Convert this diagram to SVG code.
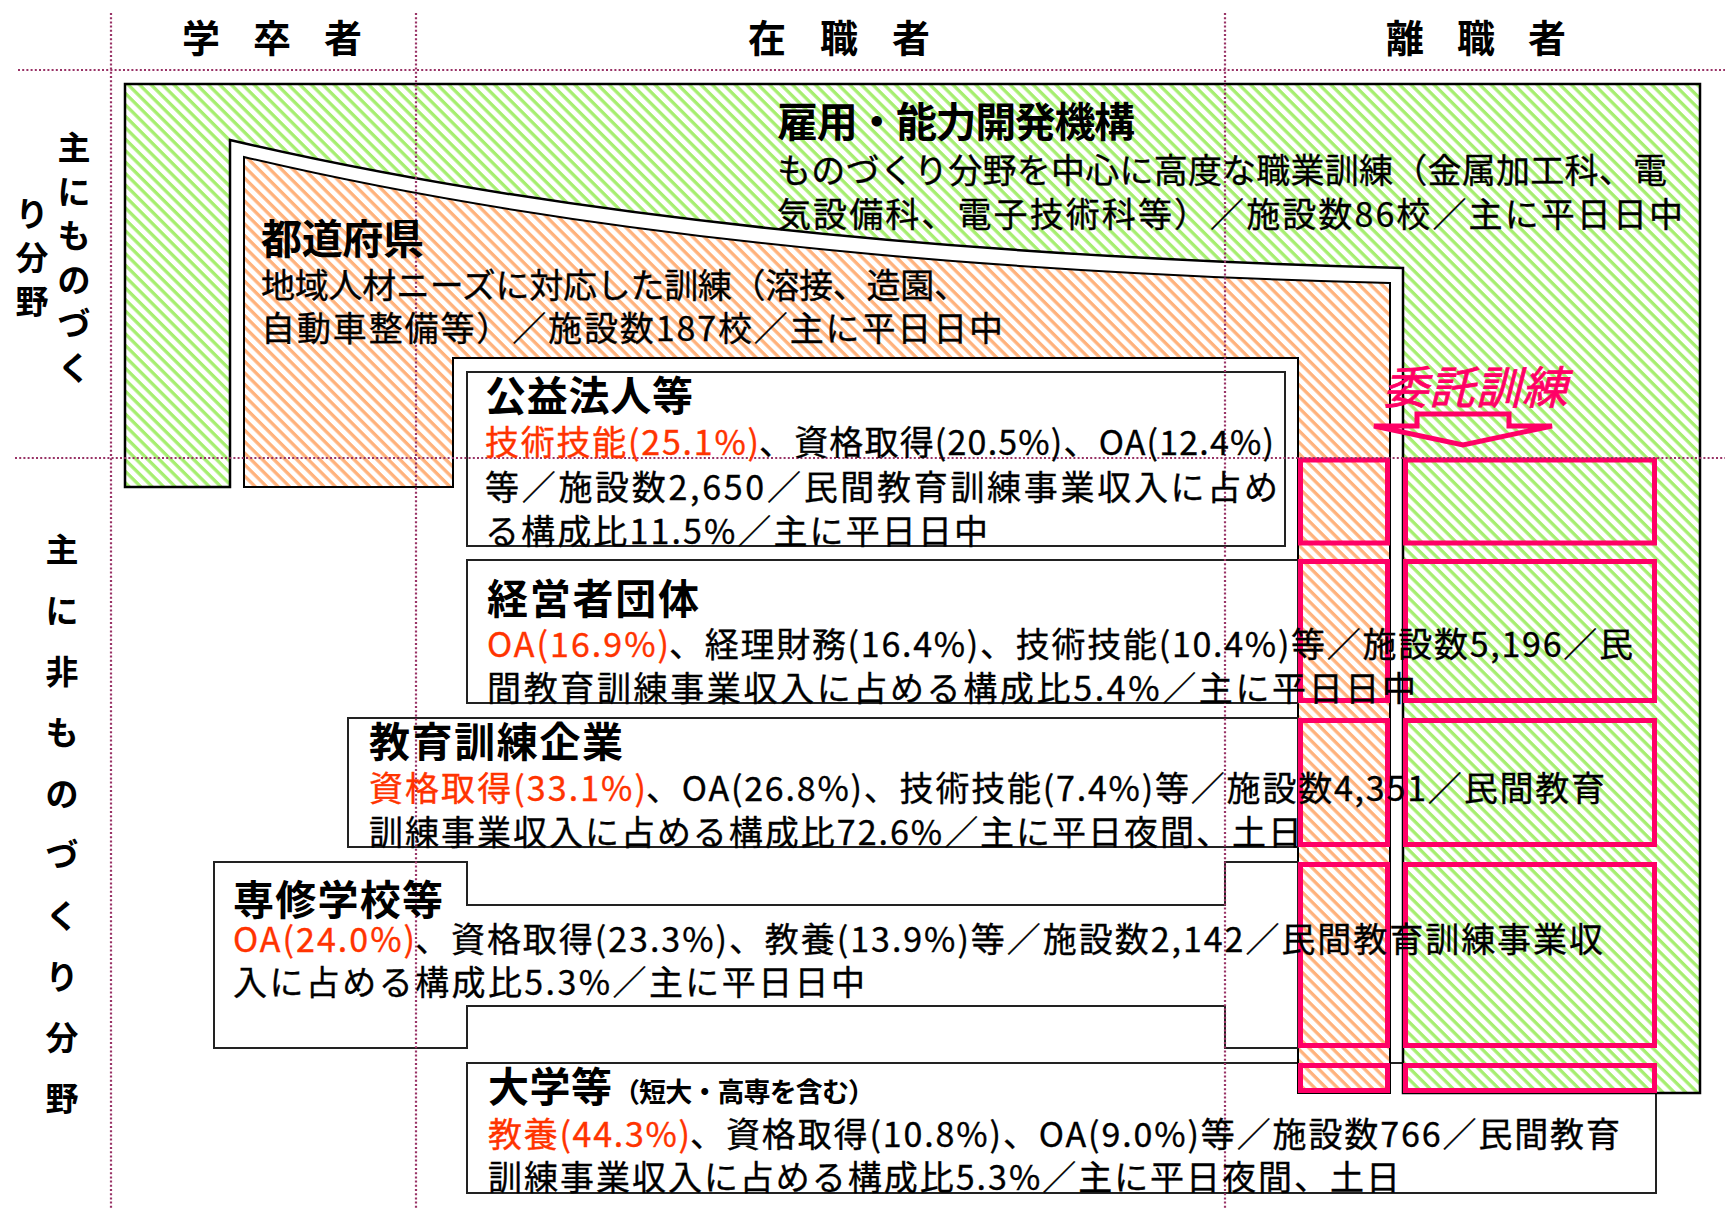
<svg xmlns="http://www.w3.org/2000/svg" width="1725" height="1209" viewBox="0 0 1725 1209">
<defs>
<pattern id="hg" patternUnits="userSpaceOnUse" width="8.1" height="8.1" patternTransform="rotate(45)">
<rect width="8.1" height="8.1" fill="#ffffff"/>
<rect width="8.1" height="3.3" fill="#A6EE70"/>
</pattern>
<pattern id="ho" patternUnits="userSpaceOnUse" width="8.1" height="8.1" patternTransform="rotate(45)">
<rect width="8.1" height="8.1" fill="#ffffff"/>
<rect width="8.1" height="3.3" fill="#FFB27C"/>
</pattern>
<style>
text{font-family:"Noto Sans CJK JP","Noto Sans CJK SC",sans-serif;fill:#000}
.h{font-size:38px;font-weight:bold}
.v{font-size:33px;font-weight:bold}
.ti{font-size:41px;font-weight:bold}
.sm{font-size:27px;font-weight:bold}
.tx{font-size:34px;stroke:#000;stroke-width:0.35}
.red{fill:#FF3300;stroke:#FF3300}
.box{fill:#ffffff;stroke:#222;stroke-width:2}
.pk{fill:none;stroke:#FF0066;stroke-width:5}
.dot{stroke:#993366;stroke-width:2.2;stroke-dasharray:2 2.2;fill:none}
.itk{font-size:45px;font-style:italic;fill:#FF0066;stroke:#FF0066;stroke-width:0.8}
</style>
</defs>
<rect width="1725" height="1209" fill="#ffffff"/>

<g id="node-daigaku-box">
<rect class="box" x="467" y="1063" width="1189" height="130"/>
</g>

<g id="node-koyou-shape">
<path d="M125 84 L1700 84 L1700 1093 L1403 1093 L1403 268 Q700 250 230 140 L230 487 L125 487 Z" fill="url(#hg)" stroke="#000" stroke-width="2.5"/>
</g>
<g id="node-todofuken-shape">
<path d="M244 157 Q705 266 1390 283 L1390 1093 L1298 1093 L1298 358 L453 358 L453 487 L244 487 Z" fill="url(#ho)" stroke="#000" stroke-width="2"/>
</g>

<g id="node-koueki-box"><rect class="box" x="467" y="372" width="818" height="174"/></g>
<g id="node-keieisha-box"><rect class="box" x="467" y="560" width="831" height="143"/></g>
<g id="node-kyouiku-box"><rect class="box" x="348" y="718" width="950" height="129"/></g>
<g id="node-senshu-box"><path class="box" d="M214 862 L467 862 L467 905 L1225 905 L1225 862 L1298 862 L1298 1048 L1225 1048 L1225 1006 L467 1006 L467 1048 L214 1048 Z"/></g>

<g id="node-itaku-boxes">
<rect class="pk" x="1300.5" y="460" width="87" height="83"/>
<rect class="pk" x="1405.5" y="460" width="249" height="83"/>
<rect class="pk" x="1300.5" y="561.5" width="87" height="139"/>
<rect class="pk" x="1405.5" y="561.5" width="249" height="139"/>
<rect class="pk" x="1300.5" y="720.5" width="87" height="124"/>
<rect class="pk" x="1405.5" y="720.5" width="249" height="124"/>
<rect class="pk" x="1300.5" y="864.5" width="87" height="181"/>
<rect class="pk" x="1405.5" y="864.5" width="249" height="181"/>
<rect class="pk" x="1300.5" y="1065.5" width="87" height="25"/>
<rect class="pk" x="1405.5" y="1065.5" width="249" height="25"/>
</g>

<g id="connectors">
<polygon points="1374,426 1417,426 1417,414 1509,414 1509,426 1552,426 1463,445" fill="none" stroke="#FF0066" stroke-width="5" stroke-linejoin="miter"/>
</g>

<g id="grid">
<line class="dot" x1="111" y1="13" x2="111" y2="1209"/>
<line class="dot" x1="416" y1="13" x2="416" y2="1209"/>
<line class="dot" x1="1225" y1="13" x2="1225" y2="1209"/>
<line class="dot" x1="18" y1="70" x2="1725" y2="70"/>
<line class="dot" x1="15" y1="458" x2="1725" y2="458"/>
</g>

<g id="header">
<text class="h" x="182 220 253 291 324" y="52">学 卒 者</text>
<text class="h" x="748 786 820 858 892" y="52">在 職 者</text>
<text class="h" x="1386 1424 1457 1495 1528" y="52">離 職 者</text>
</g>

<g id="label-monozukuri">
<text class="v" x="74" y="256" text-anchor="middle" dominant-baseline="central"><tspan x="74" y="146">主</tspan><tspan x="74" y="190">に</tspan><tspan x="74" y="234">も</tspan><tspan x="74" y="278">の</tspan><tspan x="74" y="322">づ</tspan><tspan x="74" y="366">く</tspan><tspan x="32" y="212">り</tspan><tspan x="32" y="256">分</tspan><tspan x="32" y="300">野</tspan></text>
</g>
<g id="label-hi-monozukuri">
<text class="v" text-anchor="middle" dominant-baseline="central"><tspan x="62" y="548">主</tspan><tspan x="62" y="609">に</tspan><tspan x="62" y="670">非</tspan><tspan x="62" y="731">も</tspan><tspan x="62" y="792">の</tspan><tspan x="62" y="853">づ</tspan><tspan x="62" y="914">く</tspan><tspan x="62" y="975">り</tspan><tspan x="62" y="1036">分</tspan><tspan x="62" y="1097">野</tspan></text>
</g>

<g id="node-koyou">
<text class="ti" x="777" y="137" textLength="358" lengthAdjust="spacing">雇用・能力開発機構</text>
<text class="tx" x="777" y="183" textLength="890" lengthAdjust="spacing">ものづくり分野を中心に高度な職業訓練（金属加工科、電</text>
<text class="tx" x="777" y="227" textLength="906" lengthAdjust="spacing">気設備科、電子技術科等）／施設数86校／主に平日日中</text>
</g>

<g id="node-todofuken">
<text class="ti" x="261" y="254" textLength="163" lengthAdjust="spacing">都道府県</text>
<text class="tx" x="261" y="298" textLength="707" lengthAdjust="spacing">地域人材ニーズに対応した訓練（溶接、造園、</text>
<text class="tx" x="261" y="341" textLength="742" lengthAdjust="spacing">自動車整備等）／施設数187校／主に平日日中</text>
</g>

<g id="node-koueki">
<text class="ti" x="485" y="411" textLength="208" lengthAdjust="spacing">公益法人等</text>
<text class="tx" y="455"><tspan class="red" x="485" textLength="274" lengthAdjust="spacing">技術技能(25.1%)</tspan><tspan x="759" textLength="515" lengthAdjust="spacing">、資格取得(20.5%)、OA(12.4%)</tspan></text>
<text class="tx" x="485" y="500" textLength="793" lengthAdjust="spacing">等／施設数2,650／民間教育訓練事業収入に占め</text>
<text class="tx" x="485" y="544" textLength="503" lengthAdjust="spacing">る構成比11.5%／主に平日日中</text>
</g>

<g id="node-keieisha">
<text class="ti" x="487" y="614" textLength="212" lengthAdjust="spacing">経営者団体</text>
<text class="tx" y="657"><tspan class="red" x="487" textLength="182" lengthAdjust="spacing">OA(16.9%)</tspan><tspan x="669" textLength="964" lengthAdjust="spacing">、経理財務(16.4%)、技術技能(10.4%)等／施設数5,196／民</tspan></text>
<text class="tx" x="487" y="701" textLength="929" lengthAdjust="spacing">間教育訓練事業収入に占める構成比5.4%／主に平日日中</text>
</g>

<g id="node-kyouiku">
<text class="ti" x="369" y="757" textLength="254" lengthAdjust="spacing">教育訓練企業</text>
<text class="tx" y="801"><tspan class="red" x="369" textLength="277" lengthAdjust="spacing">資格取得(33.1%)</tspan><tspan x="646" textLength="959" lengthAdjust="spacing">、OA(26.8%)、技術技能(7.4%)等／施設数4,351／民間教育</tspan></text>
<text class="tx" x="369" y="845" textLength="933" lengthAdjust="spacing">訓練事業収入に占める構成比72.6%／主に平日夜間、土日</text>
</g>

<g id="node-senshu">
<text class="ti" x="233" y="915" textLength="210" lengthAdjust="spacing">専修学校等</text>
<text class="tx" y="952"><tspan class="red" x="233" textLength="182" lengthAdjust="spacing">OA(24.0%)</tspan><tspan x="415" textLength="1188" lengthAdjust="spacing">、資格取得(23.3%)、教養(13.9%)等／施設数2,142／民間教育訓練事業収</tspan></text>
<text class="tx" x="233" y="995" textLength="632" lengthAdjust="spacing">入に占める構成比5.3%／主に平日日中</text>
</g>

<g id="node-daigaku">
<text class="ti" y="1102"><tspan x="488" textLength="124" lengthAdjust="spacing">大学等</tspan><tspan class="sm" x="613" textLength="262" lengthAdjust="spacing">（短大・高専を含む）</tspan></text>
<text class="tx" y="1147"><tspan class="red" x="488" textLength="202" lengthAdjust="spacing">教養(44.3%)</tspan><tspan x="690" textLength="930" lengthAdjust="spacing">、資格取得(10.8%)、OA(9.0%)等／施設数766／民間教育</tspan></text>
<text class="tx" x="488" y="1190" textLength="912" lengthAdjust="spacing">訓練事業収入に占める構成比5.3%／主に平日夜間、土日</text>
</g>

<g id="node-itaku">
<text class="itk" x="1383" y="404" textLength="184" lengthAdjust="spacing">委託訓練</text>
</g>
</svg>
